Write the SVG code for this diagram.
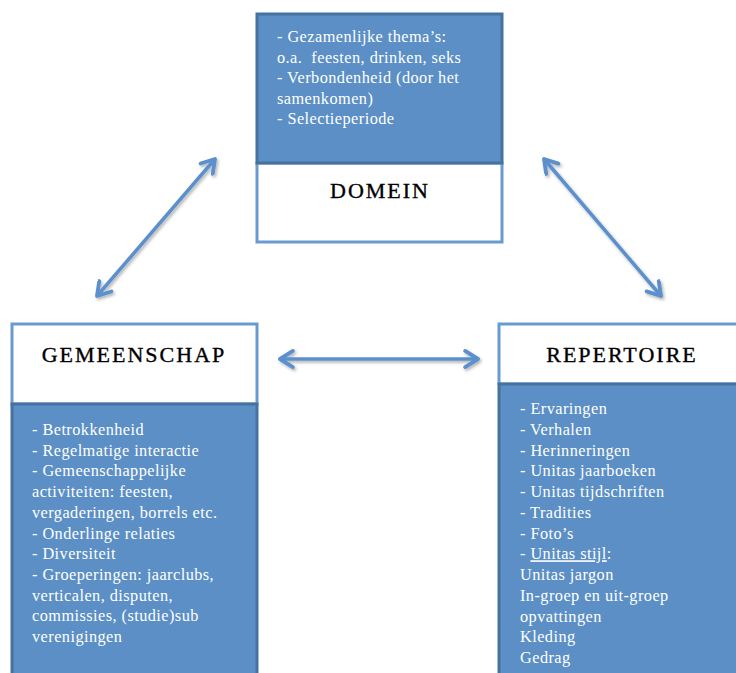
<svg xmlns="http://www.w3.org/2000/svg" width="736" height="673" viewBox="0 0 736 673">
<style>
.blue{fill:#5b8fc5;stroke:#46729f;stroke-width:3}
.white{fill:#ffffff;stroke:#6a9bd0;stroke-width:3}
.body{font-family:"Liberation Serif","Times New Roman",serif;font-size:16.3px;letter-spacing:0.45px;fill:#ffffff;white-space:pre}
.head{font-family:"Liberation Serif","Times New Roman",serif;font-size:22px;fill:#000000;stroke:#000;stroke-width:0.35;text-anchor:middle;letter-spacing:2px}
.conn{stroke:#5b90cc;stroke-width:3.5;fill:none;marker-start:url(#ah);marker-end:url(#ah);filter:url(#sh)}
</style>
<defs>
<marker id="ah" viewBox="0 0 12 12" refX="10" refY="6" markerWidth="5.5" markerHeight="5.5" orient="auto-start-reverse" markerUnits="strokeWidth">
<path d="M2,1 L10,6 L2,11" fill="none" stroke="#5b90cc" stroke-width="2.4" stroke-linecap="round" stroke-linejoin="round"/>
</marker>
<filter id="sh" filterUnits="userSpaceOnUse" x="0" y="0" width="736" height="673">
<feDropShadow dx="1.5" dy="2" stdDeviation="1.5" flood-color="#000" flood-opacity="0.3"/>
</filter>
</defs>
<g id="connectors">
<line class="conn" x1="97" y1="296" x2="215" y2="159"/>
<line class="conn" x1="544" y1="159" x2="661" y2="296"/>
<line class="conn" x1="280" y1="359" x2="478" y2="359"/>
</g>
<g id="domein">
<rect class="white" x="257" y="163" width="245" height="79"/>
<rect class="blue" x="257" y="14" width="245" height="149"/>
<text class="head" x="380" y="198">DOMEIN</text>
<text class="body" x="277" y="42">- Gezamenlijke thema’s:</text>
<text class="body" x="277" y="62.5">o.a.  feesten, drinken, seks</text>
<text class="body" x="277" y="83">- Verbondenheid (door het</text>
<text class="body" x="277" y="103.5">samenkomen)</text>
<text class="body" x="277" y="124">- Selectieperiode</text>
</g>
<g id="gemeenschap">
<rect class="white" x="12" y="324" width="245" height="80"/>
<rect class="blue" x="12" y="404" width="245" height="275"/>
<text class="head" x="134" y="362">GEMEENSCHAP</text>
<text class="body" x="32" y="435">- Betrokkenheid</text>
<text class="body" x="32" y="455.7">- Regelmatige interactie</text>
<text class="body" x="32" y="476.4">- Gemeenschappelijke</text>
<text class="body" x="32" y="497.1">activiteiten: feesten,</text>
<text class="body" x="32" y="517.8">vergaderingen, borrels etc.</text>
<text class="body" x="32" y="538.5">- Onderlinge relaties</text>
<text class="body" x="32" y="559.2">- Diversiteit</text>
<text class="body" x="32" y="579.9">- Groeperingen: jaarclubs,</text>
<text class="body" x="32" y="600.6">verticalen, disputen,</text>
<text class="body" x="32" y="621.3">commissies, (studie)sub</text>
<text class="body" x="32" y="642">verenigingen</text>
</g>
<g id="repertoire">
<rect class="white" x="499" y="324" width="250" height="60"/>
<rect class="blue" x="499" y="384" width="250" height="295"/>
<text class="head" x="622" y="362">REPERTOIRE</text>
<text class="body" x="520" y="414">- Ervaringen</text>
<text class="body" x="520" y="434.75">- Verhalen</text>
<text class="body" x="520" y="455.5">- Herinneringen</text>
<text class="body" x="520" y="476.25">- Unitas jaarboeken</text>
<text class="body" x="520" y="497">- Unitas tijdschriften</text>
<text class="body" x="520" y="517.75">- Tradities</text>
<text class="body" x="520" y="538.5">- Foto’s</text>
<text class="body" x="520" y="559.25">- <tspan text-decoration="underline">Unitas stijl</tspan>:</text>
<text class="body" x="520" y="580">Unitas jargon</text>
<text class="body" x="520" y="600.75">In-groep en uit-groep</text>
<text class="body" x="520" y="621.5">opvattingen</text>
<text class="body" x="520" y="642.25">Kleding</text>
<text class="body" x="520" y="663">Gedrag</text>
</g>
</svg>
